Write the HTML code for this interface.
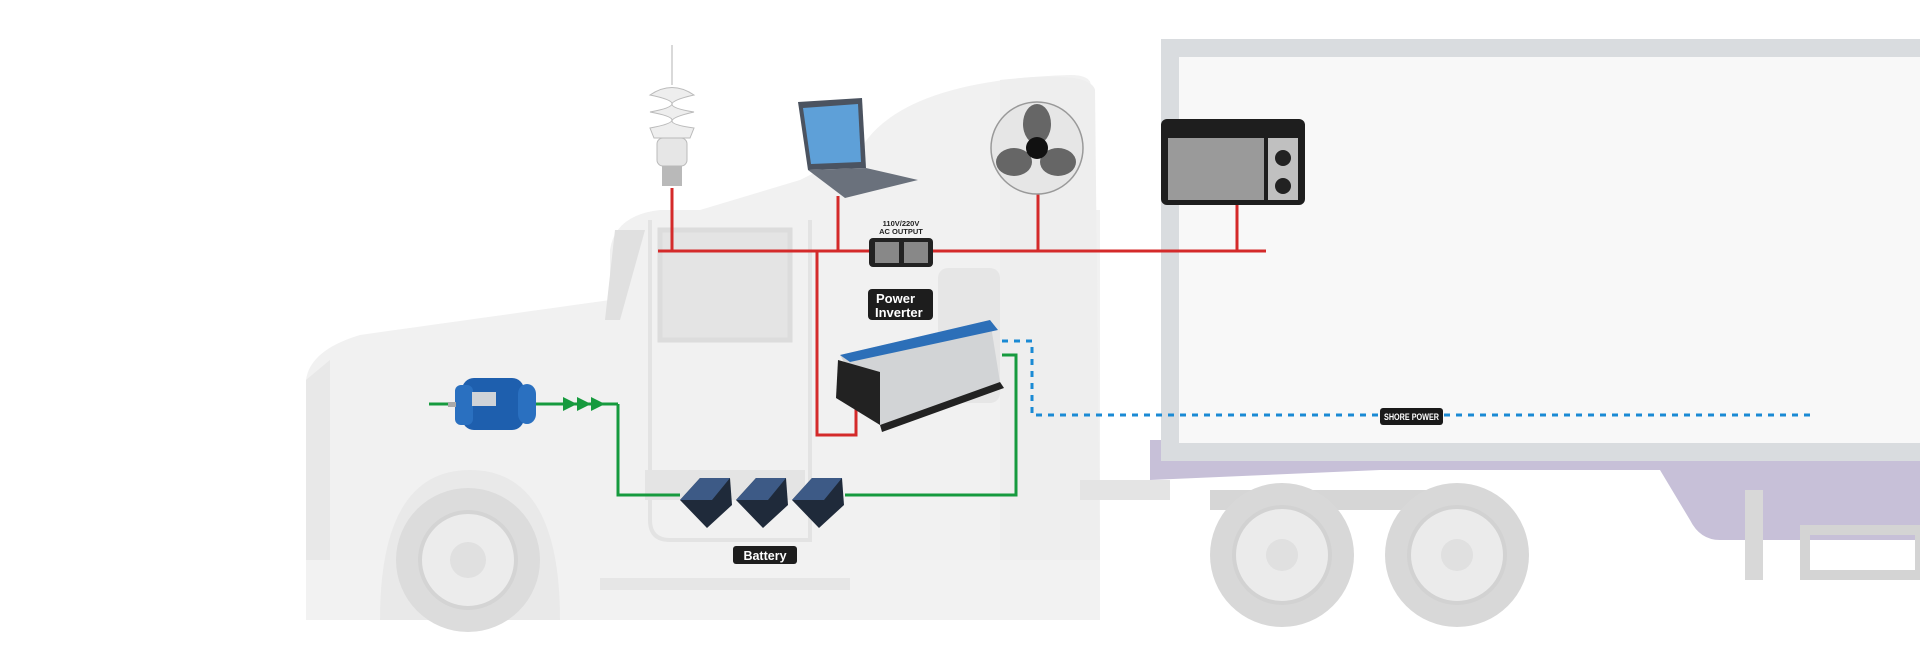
<!DOCTYPE html>
<html><head><meta charset="utf-8"><style>
html,body{margin:0;padding:0;background:#fff;}
svg{display:block;}
text{font-family:"Liberation Sans",sans-serif;font-weight:bold;}
</style></head><body>
<svg width="1920" height="662" viewBox="0 0 1920 662" xmlns="http://www.w3.org/2000/svg">
<rect width="1920" height="662" fill="#fff"/>
<!-- trailer purple underside -->
<path d="M1150 440 L1920 440 L1920 540 L1720 540 Q1700 540 1690 520 L1660 470 L1380 470 L1150 480 Z" fill="#c7c0d8"/>
<!-- trailer box -->
<rect x="1170" y="48" width="760" height="404" fill="#f8f8f8" stroke="#d9dcdf" stroke-width="18"/>
<!-- trailer landing gear / bumper -->
<rect x="1745" y="490" width="18" height="90" fill="#d8d8d8"/>
<rect x="1805" y="530" width="115" height="45" fill="none" stroke="#d4d4d4" stroke-width="10"/>
<!-- cab body -->
<path d="M306 620 L306 380 Q310 350 360 335 L610 300 L610 250 Q615 215 660 210 L1080 210 L1090 90 Q1095 75 1070 75 Q900 80 860 150 L800 180 L700 210 L660 210 L1100 210 L1100 560 L306 560 Z" fill="#f1f1f1"/>
<path d="M1000 80 Q1090 70 1095 90 L1100 560 L1000 560 Z" fill="#eeeeee"/>
<!-- cab windows/door -->
<path d="M660 230 L790 230 L790 340 L660 340 Z" fill="#e4e4e4" stroke="#dcdcdc" stroke-width="5"/>
<path d="M615 230 L645 230 L620 320 L605 320 Z" fill="#e0e0e0"/>
<rect x="938" y="268" width="62" height="135" rx="10" fill="#e6e6e6"/>
<path d="M650 220 L650 520 Q650 540 670 540 L810 540 L810 220" fill="none" stroke="#e3e3e3" stroke-width="4"/>
<rect x="645" y="470" width="160" height="30" fill="#e4e4e4"/>
<!-- hood detail -->
<path d="M306 380 L330 360 L330 560 L306 560 Z" fill="#e8e8e8"/>
<rect x="306" y="560" width="794" height="60" fill="#f2f2f2"/>
<rect x="600" y="578" width="250" height="12" fill="#e6e6e6"/>
<rect x="1080" y="480" width="90" height="20" fill="#e4e4e4"/>
<!-- front wheel arch and wheel -->
<path d="M380 620 Q380 470 470 470 Q560 470 560 620 Z" fill="#e9e9e9"/>
<circle cx="468" cy="560" r="72" fill="#dcdcdc"/>
<circle cx="468" cy="560" r="48" fill="#ececec" stroke="#d4d4d4" stroke-width="4"/>
<circle cx="468" cy="560" r="18" fill="#e0e0e0"/>
<!-- rear wheels -->
<rect x="1210" y="490" width="260" height="20" fill="#d6d6d6"/>
<circle cx="1282" cy="555" r="72" fill="#d8d8d8"/>
<circle cx="1282" cy="555" r="48" fill="#ebebeb" stroke="#d2d2d2" stroke-width="4"/>
<circle cx="1282" cy="555" r="16" fill="#e0e0e0"/>
<circle cx="1457" cy="555" r="72" fill="#d8d8d8"/>
<circle cx="1457" cy="555" r="48" fill="#ebebeb" stroke="#d2d2d2" stroke-width="4"/>
<circle cx="1457" cy="555" r="16" fill="#e0e0e0"/>

<!-- antenna -->
<line x1="672" y1="45" x2="672" y2="85" stroke="#ccc" stroke-width="1.5"/>
<!-- red AC bus -->
<g stroke="#d42a2a" stroke-width="3" fill="none">
<line x1="658" y1="251" x2="1266" y2="251"/>
<line x1="672" y1="188" x2="672" y2="251"/>
<line x1="838" y1="196" x2="838" y2="251"/>
<line x1="1038" y1="192" x2="1038" y2="251"/>
<line x1="1237" y1="203" x2="1237" y2="251"/>
<polyline points="817,251 817,435 856,435 856,408"/>
</g>
<!-- green DC -->
<g stroke="#169a3e" stroke-width="3" fill="none">
<line x1="429" y1="404" x2="618" y2="404"/>
<polyline points="618,404 618,495 680,495"/>
<polyline points="845,495 1016,495 1016,355 1002,355"/>
</g>
<g fill="#169a3e">
<polygon points="563,397 577,404 563,411"/><polygon points="577,397 591,404 577,411"/><polygon points="591,397 605,404 591,411"/>
</g>
<!-- blue shore power -->
<polyline points="1002,341 1032,341 1032,415 1810,415" fill="none" stroke="#1a8ad4" stroke-width="3" stroke-dasharray="6,6"/>
<rect x="1380" y="408" width="63" height="17" rx="3" fill="#1a1a1a"/>
<text x="1384" y="420" font-size="9" fill="#fff" textLength="55" lengthAdjust="spacingAndGlyphs">SHORE POWER</text>

<!-- bulb -->
<path d="M650 95 Q672 80 694 95 Q650 105 694 112 Q650 122 694 128 L690 138 L654 138 L650 128 Q694 120 650 112 Q694 104 650 95 Z" fill="#eeeeee" stroke="#bbb"/>
<rect x="657" y="138" width="30" height="28" rx="6" fill="#e6e6e6" stroke="#bbb"/>
<rect x="662" y="166" width="20" height="20" fill="#b9b9b9"/>
<!-- laptop -->
<polygon points="798,102 862,98 866,168 808,170" fill="#4b5360"/>
<polygon points="803,108 858,104 861,162 811,164" fill="#5ea0d8"/>
<polygon points="808,170 866,168 918,180 845,198" fill="#6a717c"/>
<!-- fan -->
<circle cx="1037" cy="148" r="46" fill="#e6e6e6" stroke="#999" stroke-width="1.5"/>
<ellipse cx="1037" cy="124" rx="14" ry="20" fill="#666"/>
<ellipse cx="1014" cy="162" rx="18" ry="14" fill="#666"/>
<ellipse cx="1058" cy="162" rx="18" ry="14" fill="#666"/>
<circle cx="1037" cy="148" r="11" fill="#111"/>
<!-- oven -->
<rect x="1161" y="119" width="144" height="86" rx="6" fill="#1e1e1e"/>
<rect x="1168" y="138" width="96" height="62" fill="#9a9a9a"/>
<rect x="1268" y="138" width="30" height="62" fill="#c0c0c0"/>
<circle cx="1283" cy="158" r="8" fill="#222"/><circle cx="1283" cy="186" r="8" fill="#222"/>
<!-- outlet -->
<text x="901" y="226" font-size="7.5" fill="#222" text-anchor="middle">110V/220V</text>
<text x="901" y="234" font-size="7.5" fill="#222" text-anchor="middle">AC OUTPUT</text>
<rect x="869" y="238" width="64" height="29" rx="4" fill="#222"/>
<rect x="875" y="242" width="24" height="21" fill="#888"/><rect x="904" y="242" width="24" height="21" fill="#888"/>
<!-- power inverter label -->
<rect x="868" y="289" width="65" height="31" rx="4" fill="#1d1d1d"/>
<text x="876" y="303" font-size="13" fill="#fff">Power</text>
<text x="875" y="317" font-size="13" fill="#fff">Inverter</text>
<!-- inverter -->
<polygon points="840,355 990,320 1000,382 880,425" fill="#d2d4d6"/>
<polygon points="840,355 990,320 998,330 850,362" fill="#2c6fb8"/>
<polygon points="838,360 880,372 880,425 836,398" fill="#222"/>
<polygon points="880,425 1000,382 1004,388 882,432" fill="#222"/>
<!-- batteries -->
<g fill="#1f2a3a">
<polygon points="680,500 700,478 730,478 732,505 707,528"/><polygon points="736,500 756,478 786,478 788,505 763,528"/><polygon points="792,500 812,478 842,478 844,505 819,528"/>
</g>
<g fill="#3d5a86"><polygon points="680,500 700,478 730,478 712,500"/><polygon points="736,500 756,478 786,478 768,500"/><polygon points="792,500 812,478 842,478 824,500"/></g>
<rect x="733" y="546" width="64" height="18" rx="3" fill="#1d1d1d"/>
<text x="765" y="560" font-size="12.5" fill="#fff" text-anchor="middle">Battery</text>
<!-- motor -->
<rect x="462" y="378" width="62" height="52" rx="12" fill="#1e5fae"/>
<rect x="455" y="385" width="18" height="40" rx="6" fill="#2a70c0"/>
<rect x="518" y="384" width="18" height="40" rx="10" fill="#2a70c0"/>
<rect x="472" y="392" width="24" height="14" fill="#cfd3d8"/>
<rect x="448" y="402" width="8" height="5" fill="#aaa"/>
</svg>
</body></html>
